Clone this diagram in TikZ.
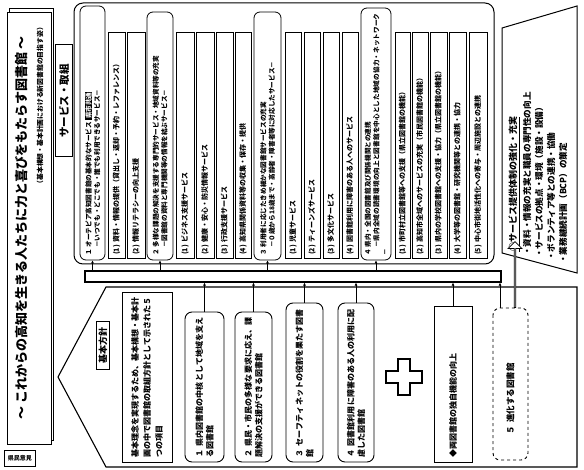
\documentclass[tikz,border=0pt]{standalone}
\usepackage{fontspec}
\setmainfont{Noto Sans CJK JP}
\XeTeXlinebreaklocale "ja"
\XeTeXlinebreakskip=0pt plus 1pt
\usetikzlibrary{shapes.geometric,shapes.arrows,arrows.meta}
\newcommand{\fz}[2]{\fontsize{#1}{#2}\selectfont}
\newcommand{\blk}[1]{{\setlength{\fboxsep}{0.6pt}\colorbox{black}{\textcolor{white}{#1}}}}
\begin{document}
\begin{tikzpicture}[x=1pt,y=-1pt,
  vt/.style={rotate=90,inner sep=0pt,align=left},
  hdr/.style={rotate=90,draw,line width=0.8pt,rounded corners=6pt,inner sep=2pt,align=left,font=\fz{6.6}{8.5}\bfseries},
  itm/.style={rotate=90,draw,line width=0.8pt,inner sep=2pt,align=left,font=\fz{7}{8.5}\bfseries},
  pbox/.style={rotate=90,draw,solid,line width=0.9pt,rounded corners=7pt,inner sep=3pt,align=left,font=\fz{8}{10.5}\bfseries},
  conn/.style={solid,line width=0.8pt,-{Latex[length=3pt,width=3pt]}},
  frame/.style={solid,line width=1pt}]
\useasboundingbox (0,0) rectangle (584,470);
% title
\draw[frame,fill=white] (9,9) rectangle (53,440);
\node[draw,line width=1pt,fill=white,minimum width=431,minimum height=44,rotate=90] (title) at (29,228.5) {};
\node[vt,font=\fz{13}{15}\bfseries] (titletext) at (22,228) {～ これからの高知を生きる人たちに力と喜びをもたらす図書館 ～};
\node[vt,anchor=east,font=\fz{6.8}{8}\bfseries] (subtitle) at (40,24) {（基本構想・基本計画における新図書館の目指す姿）};
\node[draw,line width=0.8pt,minimum width=30,minimum height=16,font=\fz{6}{7}\bfseries] (note) at (20,458) {県民意見};
% service label
\node[draw,line width=1pt,rotate=90,minimum width=112,minimum height=17,font=\fz{10.5}{12}\bfseries] (svlabel) at (64,101) {サービス・取組};
% services frame
\draw[frame,rounded corners=9pt] (74,3) rectangle (494,264);
% group 1
\node[hdr,minimum width=254,minimum height=25,text width=246] (g1) at (92.5,133) {１ オーテピア高知図書館の基本的なサービス \blk{県市共通}\\\hspace*{8pt}－いつでも・どこでも・誰でも利用できるサービス－};
\node[itm,minimum width=226,minimum height=17,text width=220] (i11) at (116.5,145) {(1) 資料・情報の提供（貸出し・返却・予約・レファレンス）};
\node[itm,minimum width=226,minimum height=18,text width=220] (i12) at (136,145) {(2) 情報リテラシーの向上支援};
% group 2
\node[hdr,minimum width=248,minimum height=26,text width=240] (g2) at (160,136) {２ 多様な課題の解決を支援する専門的サービス・地域資料等の充実\\\hspace*{8pt}－図書館の資料と専門機関等の情報を結ぶサービス－};
\node[itm,minimum width=226,minimum height=18,text width=220] (i21) at (185,145) {(1) ビジネス支援サービス};
\node[itm,minimum width=226,minimum height=18,text width=220] (i22) at (205,145) {(2) 健康・安心・防災情報サービス};
\node[itm,minimum width=226,minimum height=17,text width=220] (i23) at (224.5,145) {(3) 行政支援サービス};
\node[itm,minimum width=226,minimum height=16,text width=220] (i24) at (243,145) {(4) 高知県関係資料等の収集・保存・提供};
% group 3
\node[hdr,minimum width=248,minimum height=27,text width=240] (g3) at (267.5,136) {３ 利用者に応じたきめ細かな図書館サービスの充実\\\hspace*{8pt}－０歳から18歳まで・高齢者・障害者等に対応したサービス－};
\node[itm,minimum width=226,minimum height=16,text width=220] (i31) at (293,145) {(1) 児童サービス};
\node[itm,minimum width=226,minimum height=16,text width=220] (i32) at (312,145) {(2) ティーンズサービス};
\node[itm,minimum width=226,minimum height=16,text width=220] (i33) at (331,145) {(3) 多文化サービス};
\node[itm,minimum width=226,minimum height=16,text width=220] (i34) at (350,145) {(4) 図書館利用に障害のある人へのサービス};
% group 4
\node[hdr,minimum width=252,minimum height=30,text width=244] (g4) at (376,134) {４ 県内・全国の図書館及び関係機関との連携\\\hspace*{8pt}－県内全域の読書環境の向上と図書館を中心とした地域の協力・ネットワーク－};
\node[itm,minimum width=226,minimum height=15,text width=220] (i41) at (402.5,145) {(1) 市町村立図書館等への支援（県立図書館の機能）};
\node[itm,minimum width=226,minimum height=16,text width=220] (i42) at (420,145) {(2) 高知市全域へのサービスの充実（市民図書館の機能）};
\node[itm,minimum width=226,minimum height=17,text width=220] (i43) at (438.5,145) {(3) 県内の学校図書館への支援・協力（県立図書館の機能）};
\node[itm,minimum width=226,minimum height=17,text width=220] (i44) at (457.5,145) {(4) 大学等の図書館・研究機関等との連携・協力};
\node[itm,minimum width=226,minimum height=18,text width=220] (i45) at (478,145) {(5) 中心市街地活性化への寄与・周辺施設との連携};
% bus
\node[draw,line width=1.2pt,minimum width=416,minimum height=11,inner sep=0pt] (bus) at (293,276.5) {};
% right panel
\draw[frame] (502,28) -- (577,6) -- (577,273) -- (502,253) -- cycle;
\node[vt,anchor=west,font=\fz{9}{10}\bfseries] (rp0) at (514,252) {\underline{○サービス提供体制の強化・充実}};
\node[vt,anchor=west,font=\fz{8.6}{10}\bfseries] (rp1) at (527,256) {・資料・情報の充実と職員の専門性の向上};
\node[vt,anchor=west,font=\fz{8.6}{10}\bfseries] (rp2) at (539,258) {・サービスの拠点・環境（施設・設備）};
\node[vt,anchor=west,font=\fz{8.6}{10}\bfseries] (rp3) at (551,261) {・ボランティア等との連携・協働};
\node[vt,anchor=west,font=\fz{8.6}{10}\bfseries] (rp4) at (563,264) {・業務継続計画（BCP）の策定};
% pentagon
\draw[frame,line width=1.1pt] (58,377) -- (106,287) -- (577,287) -- (577,467) -- (106,467) -- cycle;
\node[draw,line width=1pt,rotate=90,minimum width=48,minimum height=13,inner sep=1pt,font=\fz{9}{10}\bfseries] (kihon) at (103,346) {基本方針};
\node[draw,line width=0.8pt,rotate=90,minimum width=170,minimum height=50,text width=160,inner sep=3pt,align=left,font=\fz{8}{12}\bfseries] (desc) at (147,377) {基本理念を実現するため、基本構想・基本計画の中で図書館の取組方針として示された５つの項目};
\node[pbox,minimum width=150,minimum height=39,text width=140] (p1) at (204.5,387) {１ 県内図書館の中核として地域を支える図書館};
\node[pbox,minimum width=150,minimum height=37,text width=140] (p2) at (253.5,387) {２ 県民・市民の多様な要求に応え、課題解決の支援ができる図書館};
\node[pbox,minimum width=159,minimum height=37,text width=149] (p3) at (304.5,382.5) {３ セーフティネットの役割を果たす図書館};
\node[pbox,minimum width=159,minimum height=36,text width=149] (p4) at (356,382.5) {４ 図書館利用に障害のある人の利用に配慮した図書館};
\node[draw,line width=0.9pt,rotate=90,minimum width=156,minimum height=38,text width=146,inner sep=3pt,align=left,font=\fz{8}{10.5}\bfseries] (pd) at (453,384) {◆両図書館の独自機能の向上};
\node[pbox,dashed,minimum width=152,minimum height=35,text width=100,font=\fz{8.5}{10}\bfseries] (p5) at (510.5,384) {５ 進化する図書館};
% plus
\draw[line width=2.2pt,fill=white] (398,359) -- (410,359) -- (410,371) -- (422,371) -- (422,383) -- (410,383) -- (410,395) -- (398,395) -- (398,383) -- (386,383) -- (386,371) -- (398,371) -- cycle;
% up arrow from box 5 to right panel
\coordinate (t5) at (500,0);
\node[single arrow,draw,solid,line width=0.8pt,fill=white,rotate=90,minimum height=66,minimum width=14,single arrow head extend=3pt,inner sep=0pt] (up) at (515,275) {};
% connectors
\foreach \n in {g1,g2,g3,g4}{\draw[conn] (bus.north -| \n.west) -- (\n.west);}
\foreach \n in {p1,p2,p3,p4,pd}{\draw[conn] (\n.east) -- (bus.south -| \n.east);}
\draw[conn] (p5.north east -| t5) -- (bus.south -| t5);
\end{tikzpicture}
\end{document}
